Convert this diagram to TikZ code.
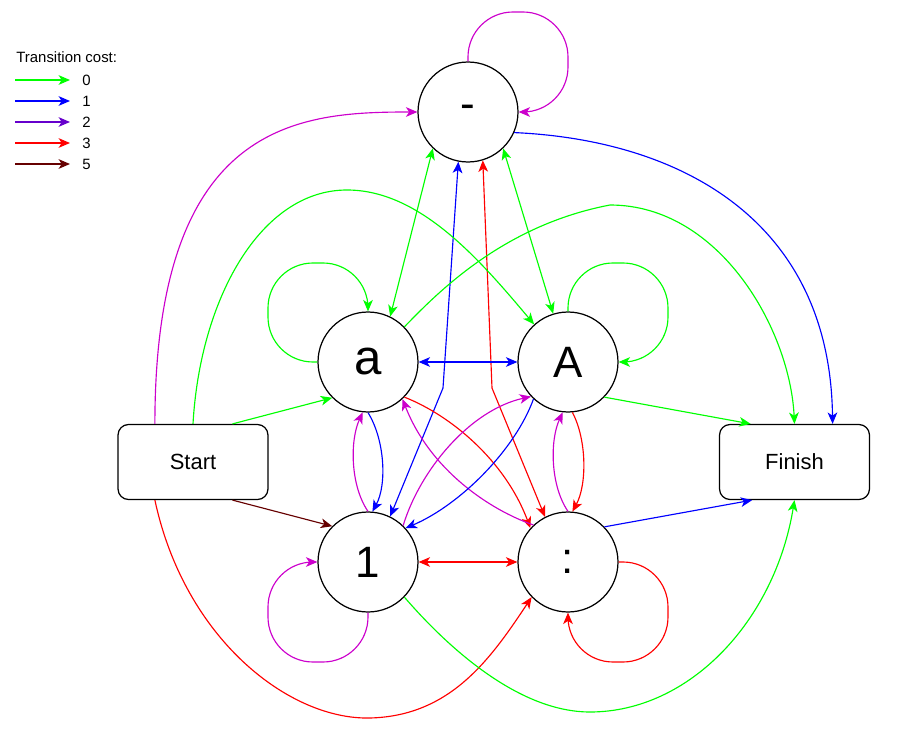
\documentclass[tikz,border=0pt]{standalone}
\usepackage{fontspec}
\setmainfont{Liberation Sans}
\usetikzlibrary{arrows.meta}

\definecolor{costzero}{HTML}{00FF00}
\definecolor{costone}{HTML}{0000FF}
\definecolor{costtwo}{HTML}{6600CC}
\definecolor{costthree}{HTML}{FF0000}
\definecolor{costfive}{HTML}{660000}
\definecolor{loopmag}{HTML}{CC00CC}

\tikzset{
  state/.style={draw, circle, line width=0.7pt, minimum size=2cm, inner sep=0pt, font=\fontsize{25}{28}\selectfont}, % 圆形状态
  term/.style={draw, rounded corners=6pt, line width=0.7pt, minimum width=3cm, minimum height=1.5cm, font=\fontsize{12.5}{15}\selectfont}, % 起点和终点
  link/.style={line width=0.65pt}, % 连线样式
  selfloop/.style={link, rounded corners=0.9cm}, % 自环样式
  legend text/.style={font=\fontsize{8.5}{10}\selectfont, anchor=west, inner sep=0pt} % 图例文字
}

\begin{document}
\begin{tikzpicture}[x=0.02cm, y=-0.02cm, >={Stealth[length=6.5pt,width=5.5pt,inset=1.8pt]}]
    \useasboundingbox (0,0) rectangle (921,747);

    \node[state] (hyph) at (468,112) {-};
    \node[state] (lowa) at (368,362) {\fontsize{28}{30}\selectfont a};
    \node[state] (capA) at (568,362) {A};
    \node[state] (one) at (368,562) {1};
    \node[state] (colon) at (568,562) {:};
    \node[term] (start) at (193,462) {Start};
    \node[term] (finish) at (794.5,462) {Finish};

    \coordinate (bendb) at (443,388);
    \coordinate (bendr) at (492,388);

    \node[legend text] (legtitle) at (16,57) {Transition cost:};
    \foreach \c/\v [count=\k] in {costzero/0,costone/1,costtwo/2,costthree/3,costfive/5} {
      \coordinate (ls\k) at (15,59+21*\k);
      \coordinate (le\k) at (70,59+21*\k);
      \node[legend text] (lv\k) at (82,59+21*\k) {\v};
      \draw[link, \c, ->] (ls\k) -- (le\k);
    }

    \draw[selfloop, loopmag, ->] (hyph.north) |- (568,12) |- (hyph.east);
    \draw[selfloop, costzero, ->] (lowa.west) -| (268,263) -| (lowa.north);
    \draw[selfloop, costzero, ->] (capA.north) |- (668,263) |- (capA.east);
    \draw[selfloop, loopmag, ->] (one.south) |- (268,662) |- (one.west);
    \draw[selfloop, costthree, ->] (colon.east) -| (668,662) -| (colon.south);

    \draw[link, costzero, <->] (hyph.-134) -- (lowa.64);
    \draw[link, costzero, <->] (hyph.-46) -- (capA.107);
    \draw[link, costone, <->] (hyph.-101) -- (bendb) -- (one.64);
    \draw[link, costthree, <->] (hyph.-73) -- (bendr) -- (colon.117);
    \draw[link, costone, ->] (hyph.-24) .. controls (680,140) and (830,220) .. (finish.45);

    \draw[link, costone, <->] (lowa) -- (capA);
    \draw[link, costthree, <->] (one) -- (colon);

    \draw[link, costone, ->] (lowa.south) .. controls (385,440) and (387,485) .. (one.85);
    \draw[link, loopmag, ->] (one.north) .. controls (350,485) and (350,440) .. (lowa.-96);
    \draw[link, loopmag, ->] (colon.north) .. controls (550,485) and (550,440) .. (capA.-96);
    \draw[link, costthree, ->] (capA.-85) .. controls (587,440) and (587,485) .. (colon.85);

    \draw[link, costthree, ->] (lowa.-44) .. controls (450,415) and (505,460) .. (colon.138);
    \draw[link, loopmag, ->] (colon.133) .. controls (490,510) and (430,470) .. (lowa.-47);
    \draw[link, loopmag, ->] (one.46) .. controls (420,470) and (470,410) .. (capA.-137);
    \draw[link, costone, ->] (capA.-133) .. controls (515,450) and (460,505) .. (one.42);

    \draw[link, loopmag, ->] (start.135) .. controls (155,120) and (300,112) .. (hyph.west);
    \draw[link, costzero, ->] (start.north) .. controls (200,300) and (260,190) .. (347,190)
        .. controls (420,190) and (480,260) .. (capA.132);
    \draw[link, costzero, ->] (start.44) -- (lowa.225);
    \draw[link, costfive, ->] (start.-44) -- (one.135);
    \draw[link, costthree, ->] (start.-135) .. controls (185,640) and (290,720) .. (370,718)
        .. controls (450,716) and (490,660) .. (colon.-136);

    \draw[link, costzero, ->] (lowa.44) .. controls (440,290) and (505,225) .. (610,205)
        .. controls (720,205) and (790,330) .. (finish.north);
    \draw[link, costzero, ->] (capA.-44) -- (finish.139);
    \draw[link, costone, ->] (colon.44) -- (finish.-138);
    \draw[link, costzero, ->] (one.-44) .. controls (450,650) and (520,712) .. (590,712)
        .. controls (690,712) and (775,620) .. (finish.south);
\end{tikzpicture}
\end{document}
